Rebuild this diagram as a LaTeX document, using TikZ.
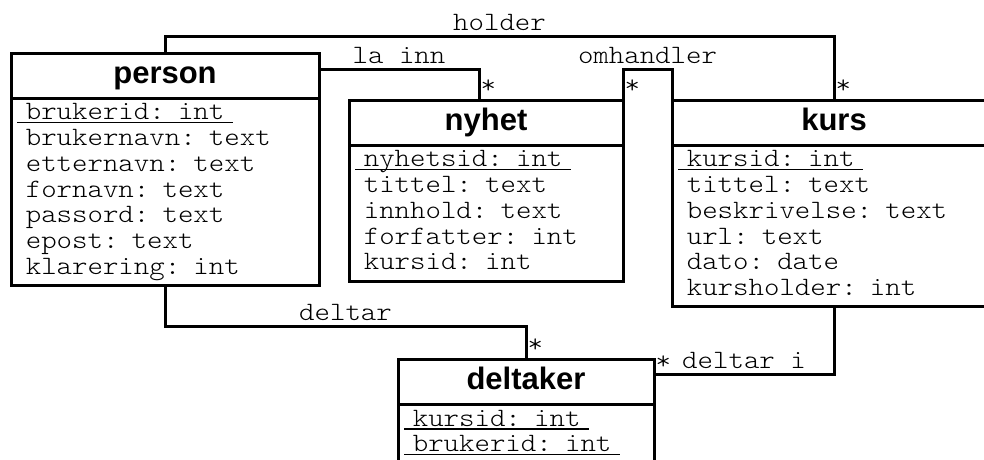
\documentclass[tikz,border=0pt]{standalone}
\usepackage{fontspec}
\setsansfont{Liberation Sans}
\setmonofont[FakeStretch=1.11]{lmmonolt10-regular.otf}
\usetikzlibrary{positioning}

\newcommand\attr[1]{\strut\ #1}
\newcommand\keyattr[1]{\strut\setbox0\hbox{\ #1\ }\rlap{\rule[-3.5pt]{\wd0}{1.4pt}}\box0}

\tikzset{every picture/.style={line width=3pt}}

\begin{document}
\begin{tikzpicture}[x=1pt,y=-1pt,
    entity/.style={draw, anchor=north west, outer sep=0pt, inner sep=0pt, minimum height=45.5pt,
      font=\fontsize{31}{31}\selectfont\sffamily\bfseries, text height=22pt, text depth=6.5pt},
    fields/.style={draw, outer sep=0pt, inner xsep=6pt, inner ysep=3.5pt, align=left,
      font=\fontsize{26.5}{25.7}\selectfont\ttfamily},
    rel/.style={font=\fontsize{26.5}{25.7}\selectfont\ttfamily, anchor=base, yshift=6pt, inner sep=0pt},
    mult/.style={font=\fontsize{26.5}{25.7}\selectfont\ttfamily, anchor=base west, inner sep=0pt,
      xshift=0pt, yshift=6.5pt}]
    \useasboundingbox (0,0) rectangle (984,459);
    \clip (0,0) rectangle (984,459);

    % tabeller
    \node[entity, minimum width=308pt] (person-h) at (11,53) {person};
    \node[fields, text width=296pt, below=0pt of person-h] (person-b)
        {\keyattr{brukerid: int}\\ \attr{brukernavn: text}\\ \attr{etternavn: text}\\
         \attr{fornavn: text}\\ \attr{passord: text}\\ \attr{epost: text}\\ \attr{klarering: int}};
    \node[entity, minimum width=274pt] (nyhet-h) at (349,100) {nyhet};
    \node[fields, text width=262pt, below=0pt of nyhet-h] (nyhet-b)
        {\keyattr{nyhetsid: int}\\ \attr{tittel: text}\\ \attr{innhold: text}\\
         \attr{forfatter: int}\\ \attr{kursid: int}};
    \node[entity, minimum width=324pt] (kurs-h) at (672,100) {kurs};
    \node[fields, text width=312pt, below=0pt of kurs-h] (kurs-b)
        {\keyattr{kursid: int}\\ \attr{tittel: text}\\ \attr{beskrivelse: text}\\
         \attr{url: text}\\ \attr{dato: date}\\ \attr{kursholder: int}};
    \node[entity, minimum width=256pt] (deltaker-h) at (398,359) {deltaker};
    \node[fields, text width=244pt, below=0pt of deltaker-h] (deltaker-b)
        {\keyattr{kursid: int}\\ \keyattr{brukerid: int}\\ \attr{}};

    % relasjoner
    \draw (person-h.north) -- ++(0,-17) -| node[rel, pos=.25] {holder}
        node[mult, pos=1] {*} (kurs-h.north);
    \draw ([yshift=6.5pt]person-h.east) -| node[rel, pos=.25] {la inn}
        node[mult, pos=1] {*} ([xshift=-7pt]nyhet-h.north);
    \draw (nyhet-h.north east) -- node[mult, pos=0] {*} ++(0,-31) -| node[rel, pos=.25] {omhandler}
        (kurs-h.north west);
    \draw (person-b.south) -- ++(0,41) -| node[rel, pos=.25] {deltar}
        node[mult, pos=1] {*} (deltaker-h.north);
    \draw (kurs-b.south) |- node[rel, pos=.75] {deltar i}
        node[mult, pos=1, yshift=-2pt] {*} ([yshift=7.5pt]deltaker-h.east);
\end{tikzpicture}
\end{document}
